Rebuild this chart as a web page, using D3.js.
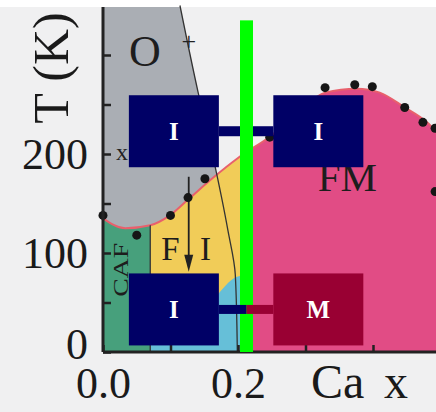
<!DOCTYPE html>
<html>
<head>
<meta charset="utf-8">
<script src="https://cdn.jsdelivr.net/npm/d3@7"></script>
<style>
  body { margin: 0; background: #ffffff; }
  svg { display: block; font-family: "Liberation Serif", "DejaVu Serif", serif; }
</style>
</head>
<body>
<div id="chart"></div>
<script>
// phase boundary between FM / CAF / FI (below) and O (above), [Ca x, T]
const fmBoundary = [[0, 135], [0.033, 125], [0.07, 128], [0.099, 138], [0.126, 154], [0.163, 176],
  [0.2, 196], [0.25, 219], [0.29, 243], [0.329, 262], [0.376, 266], [0.41, 262],
  [0.447, 247], [0.48, 232], [0.5, 218]];
// line limiting the O phase
const oBoundary = [[0.114, 350], [0.141, 262], [0.163, 197], [0.185, 123], [0.196, 78], [0.199, 0]];
// top edge of the light blue pocket at low T
const blueBoundary = [[0.07, 12], [0.114, 24], [0.151, 42], [0.176, 63], [0.195, 75], [0.205, 77]];
// measured points
const dots = [[0, 138], [0.05, 118], [0.1, 138], [0.126, 156], [0.151, 175], [0.247, 217],
  [0.329, 267], [0.373, 270], [0.399, 268], [0.447, 247], [0.474, 232], [0.492, 226], [0.492, 162]];
const cafEdge = 0.07;      // CAF | FI
const fmEdge = 0.205;      // FI | FM
const greenX = 0.2126;     // highlighted composition
const arrowX = 0.127, arrowT = [177, 81];
const yTicks = [0, 50, 100, 150, 200, 250, 300];
const yLabels = [0, 100, 200];
const xTicks = [0, 0.1, 0.2, 0.3, 0.4];
const xLabels = [0, 0.2];
// overlay boxes: [Ca x, T, label, colour]
const boxes = [[0.105, 223, 'I', '#000066'], [0.319, 223, 'I', '#000066'],
  [0.105, 43, 'I', '#000066'], [0.319, 43, 'M', '#990033']];

const width = 436, height = 412;
const xMax = 0.5, tMax = 348.5;

const svg = d3.select('#chart').append('svg')
  .attr('width', width).attr('height', height);

const x = d3.scaleLinear().domain([0, 0.5]).range([103, 440.5]);
const y = d3.scaleLinear().domain([0, 300]).range([352, 55]);

svg.append('rect').attr('x', 0).attr('y', 7).attr('width', width).attr('height', height - 7)
  .attr('fill', '#f0f0f1');

const curve = d3.line().x(d => x(d[0])).y(d => y(d[1])).curve(d3.curveMonotoneX);

const defs = svg.append('defs');
defs.append('clipPath').attr('id', 'below')
  .append('path')
  .attr('d', d3.area().x(d => x(d[0])).y0(y(0)).y1(d => y(d[1])).curve(d3.curveMonotoneX)(fmBoundary));
defs.append('clipPath').attr('id', 'above')
  .append('path')
  .attr('d', d3.area().x(d => x(d[0])).y0(y(tMax)).y1(d => y(d[1])).curve(d3.curveMonotoneX)(fmBoundary));

// regions under the boundary
const under = svg.append('g').attr('clip-path', 'url(#below)');
under.append('rect').attr('x', x(0)).attr('y', y(tMax)).attr('width', x(cafEdge) - x(0))
  .attr('height', y(0) - y(tMax)).attr('fill', '#47a07c');
under.append('rect').attr('x', x(cafEdge)).attr('y', y(tMax)).attr('width', x(fmEdge) - x(cafEdge))
  .attr('height', y(0) - y(tMax)).attr('fill', '#f1cc58');
under.append('rect').attr('x', x(fmEdge)).attr('y', y(tMax)).attr('width', x(xMax) - x(fmEdge))
  .attr('height', y(0) - y(tMax)).attr('fill', '#e14c85');
under.append('path')
  .attr('d', d3.area().x(d => x(d[0])).y0(y(0)).y1(d => y(d[1])).curve(d3.curveMonotoneX)(blueBoundary))
  .attr('fill', '#66bfd8');

// O region
const oLine = d3.line().x(d => x(d[0])).y(d => y(d[1])).curve(d3.curveMonotoneY);
const oPoly = [[0, tMax]].concat(oBoundary).concat([[0, 0]]);
svg.append('path').attr('clip-path', 'url(#above)')
  .attr('d', d3.line().x(d => x(d[0])).y(d => y(d[1]))(oPoly))
  .attr('fill', '#aaaeb4');

svg.append('path').attr('d', curve(fmBoundary)).attr('fill', 'none')
  .attr('stroke', '#e8606c').attr('stroke-width', 2);
svg.append('path').attr('d', oLine(oBoundary))
  .attr('fill', 'none').attr('stroke', '#333').attr('stroke-width', 1.3);
svg.append('line').attr('x1', x(cafEdge)).attr('x2', x(cafEdge)).attr('y1', y(128)).attr('y2', y(0))
  .attr('stroke', '#333').attr('stroke-width', 1.3);

// arrow
svg.append('line').attr('x1', x(arrowX)).attr('x2', x(arrowX))
  .attr('y1', y(arrowT[0])).attr('y2', y(arrowT[1]) - 12)
  .attr('stroke', '#222').attr('stroke-width', 1.8);
svg.append('path')
  .attr('d', `M${x(arrowX) - 4.5},${y(arrowT[1]) - 17}L${x(arrowX) + 4.5},${y(arrowT[1]) - 17}L${x(arrowX)},${y(arrowT[1])}Z`)
  .attr('fill', '#222');

svg.selectAll('.dot').data(dots).enter().append('circle').attr('class', 'dot')
  .attr('cx', d => x(d[0])).attr('cy', d => y(d[1])).attr('r', 4.5).attr('fill', '#161616');

// region labels
const labels = [['O', 0.062, 289, 44], ['FM', 0.362, 163, 41], ['F', 0.1, 93, 33], ['I', 0.152, 93, 33]];
svg.selectAll('.lab').data(labels).enter().append('text').attr('class', 'lab')
  .attr('x', d => x(d[1])).attr('y', d => y(d[2]))
  .attr('text-anchor', 'middle').attr('font-size', d => d[3]).attr('fill', '#1d1d1d')
  .text(d => d[0]);
svg.append('text').attr('transform', `translate(${x(0.0375)},${y(83)}) rotate(-90)`)
  .attr('text-anchor', 'middle').attr('font-size', 21).attr('fill', '#1d1d1d')
  .attr('textLength', 54).attr('lengthAdjust', 'spacingAndGlyphs').text('CAF');
svg.append('text').attr('x', x(0.127)).attr('y', y(305)).attr('text-anchor', 'middle')
  .attr('font-size', 26).attr('fill', '#222').text('+');
svg.append('text').attr('x', x(0.028)).attr('y', y(194)).attr('text-anchor', 'middle')
  .attr('font-size', 24).attr('fill', '#222').text('x');

// axes
const yAxis = svg.append('g').attr('transform', `translate(${x(0)},0)`)
  .call(d3.axisLeft(y).tickValues(yTicks).tickSizeInner(-8).tickSizeOuter(0).tickPadding(15)
    .tickFormat(d => yLabels.includes(d) ? d : ''));
yAxis.select('.domain').attr('d', `M0,${y(tMax)}V${y(0)}`);
const xAxis = svg.append('g').attr('transform', `translate(0,${y(0)})`)
  .call(d3.axisBottom(x).tickValues(xTicks).tickSizeInner(-7).tickSizeOuter(0)
    .tickFormat(d => xLabels.includes(d) ? d3.format('.1f')(d) : ''));
xAxis.select('.domain').attr('d', `M${x(0)},0H${width}`);
[yAxis, xAxis].forEach(a => {
  a.select('.domain').attr('stroke', '#222').attr('stroke-width', 3);
  a.selectAll('.tick line').attr('stroke', '#222').attr('stroke-width', 2.5);
  a.selectAll('text').attr('font-family', '"Liberation Serif", serif').attr('font-size', 44).attr('fill', '#1a1a1a');
});
yAxis.selectAll('text').filter(d => d === 0).attr('dy', '0.14em');
xAxis.selectAll('text').attr('dy', null).attr('y', 46);

svg.append('text').attr('transform', 'translate(68,68) rotate(-90)').attr('text-anchor', 'middle')
  .attr('font-size', 50).attr('fill', '#1a1a1a').text('T (K)');
const xTitle = svg.append('text').attr('y', 398).attr('font-size', 48).attr('fill', '#1a1a1a');
xTitle.append('tspan').attr('x', 311).text('Ca');
xTitle.append('tspan').attr('x', 384).text('x');

// overlay: boxes, connectors and the green composition bar
const bw = 90, bh = 72;
svg.append('rect').attr('x', x(boxes[0][0]) + bw / 2).attr('y', y(boxes[0][1]) - 5)
  .attr('width', x(boxes[1][0]) - x(boxes[0][0]) - bw).attr('height', 10).attr('fill', '#000066');
svg.append('rect').attr('x', x(greenX) - 6.5).attr('y', y(335)).attr('width', 13)
  .attr('height', y(0) - y(335)).attr('fill', '#00ff00');
svg.append('rect').attr('x', x(boxes[2][0]) + bw / 2).attr('y', y(boxes[2][1]) - 4.5)
  .attr('width', x(greenX) - x(boxes[2][0]) - bw / 2).attr('height', 9).attr('fill', '#000066');
svg.append('rect').attr('x', x(greenX)).attr('y', y(boxes[3][1]) - 4.5)
  .attr('width', x(boxes[3][0]) - bw / 2 - x(greenX)).attr('height', 9).attr('fill', '#990033');

const bx = svg.selectAll('.box').data(boxes).enter().append('g').attr('class', 'box')
  .attr('transform', d => `translate(${x(d[0])},${y(d[1])})`);
bx.append('rect').attr('x', -bw / 2).attr('y', -bh / 2).attr('width', bw).attr('height', bh)
  .attr('fill', d => d[3]);
bx.append('text').attr('text-anchor', 'middle').attr('y', 9).attr('font-size', 25)
  .attr('font-weight', 'bold').attr('fill', '#ffffff').text(d => d[2]);
</script>
</body>
</html>
